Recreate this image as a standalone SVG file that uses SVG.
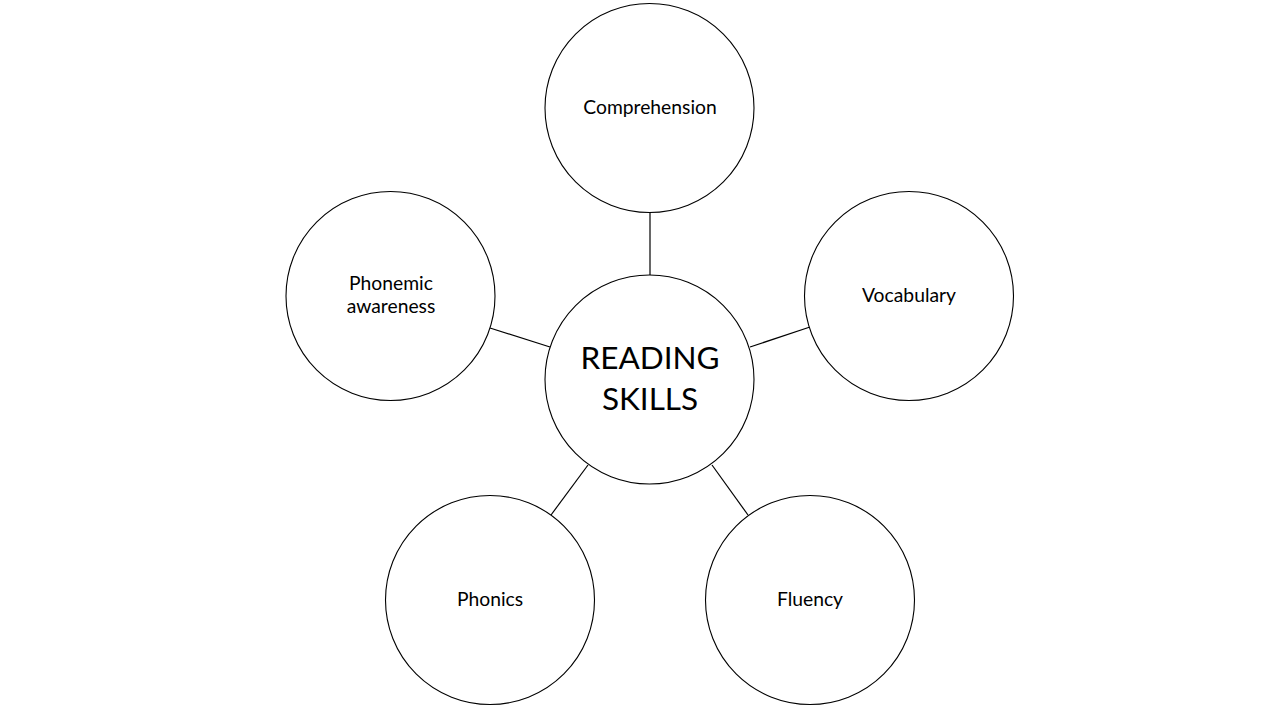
<svg xmlns="http://www.w3.org/2000/svg" width="1280" height="720" viewBox="0 0 1280 720">
<style>
.n{fill:#fff;stroke:#000;stroke-width:1.1}
.c{stroke:#000;stroke-width:1.2}
.t{font-family:Lato,"Open Sans",sans-serif;font-size:19.3px;fill:#000;text-anchor:middle}
.big{font-size:31.5px}
</style>
<rect width="1280" height="720" fill="#fff"/>
<g id="connectors">
<line class="c" x1="650" y1="212" x2="650" y2="275"/>
<line class="c" x1="750" y1="347" x2="810" y2="327"/>
<line class="c" x1="490" y1="328" x2="550" y2="347"/>
<line class="c" x1="551" y1="515" x2="588" y2="465"/>
<line class="c" x1="712" y1="465" x2="748" y2="515"/>
</g>
<g id="center"><circle class="n" cx="649.5" cy="379.5" r="104.5"/>
<text class="t big" x="650" y="369">READING</text><text class="t big" x="650" y="410">SKILLS</text></g>
<g id="comprehension"><circle class="n" cx="649.5" cy="108" r="104.5"/><text class="t" x="650" y="114">Comprehension</text></g>
<g id="vocabulary"><circle class="n" cx="909" cy="296" r="104.5"/><text class="t" x="909" y="302">Vocabulary</text></g>
<g id="phonemic"><circle class="n" cx="390.5" cy="296" r="104.5"/><text class="t" x="391" y="290">Phonemic</text><text class="t" x="391" y="313">awareness</text></g>
<g id="phonics"><circle class="n" cx="490" cy="600" r="104.5"/><text class="t" x="490" y="606">Phonics</text></g>
<g id="fluency"><circle class="n" cx="810" cy="600" r="104.5"/><text class="t" x="810" y="606">Fluency</text></g>
</svg>
